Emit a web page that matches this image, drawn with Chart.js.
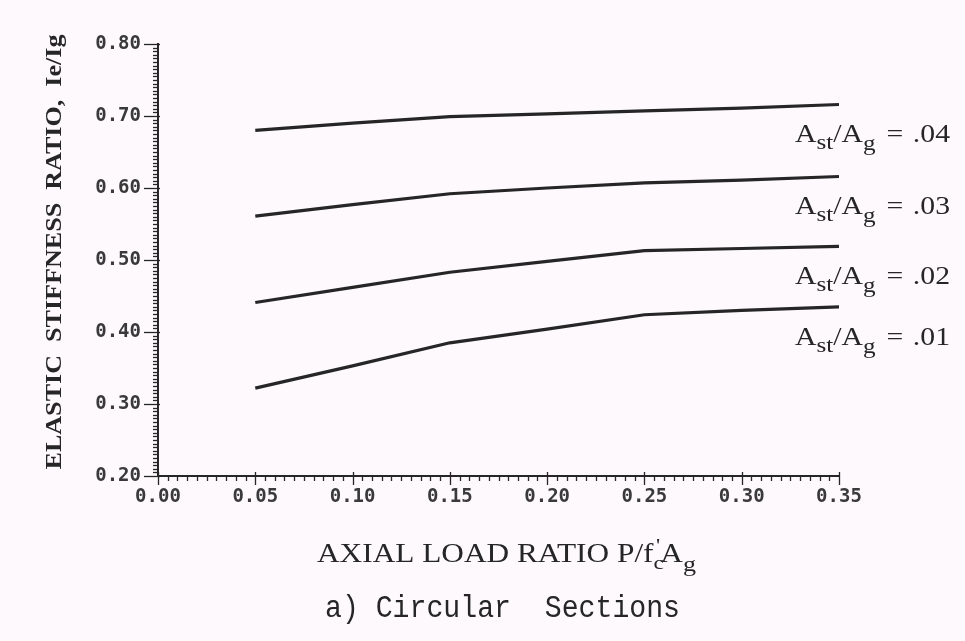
<!DOCTYPE html>
<html>
<head>
<meta charset="utf-8">
<script src="https://cdn.jsdelivr.net/npm/chart.js@4/dist/chart.umd.min.js"></script>
<style>
  html, body { margin: 0; padding: 0; background: #fdf9fd; }
  #wrap { width: 965px; height: 641px; }
</style>
</head>
<body>
<div id="wrap"><canvas id="c" width="965" height="641"></canvas></div>
<script>
// ---- data ----
const axialLoadRatio = [0.05, 0.10, 0.15, 0.20, 0.25, 0.30, 0.35];
const stiffness04 = [0.680, 0.690, 0.699, 0.703, 0.707, 0.711, 0.716];
const stiffness03 = [0.561, 0.577, 0.592, 0.600, 0.607, 0.611, 0.616];
const stiffness02 = [0.441, 0.462, 0.483, 0.498, 0.513, 0.516, 0.519];
const stiffness01 = [0.322, 0.353, 0.385, 0.404, 0.424, 0.430, 0.435];
const steelRatioLabels = ['.04', '.03', '.02', '.01'];
const xRange = [0.00, 0.35];
const yRange = [0.20, 0.80];
const xMajorStep = 0.05, yMajorStep = 0.10, minorStep = 0.005;
const yTitle = 'ELASTIC  STIFFNESS  RATIO,  Ie/Ig';
const captionText = 'a) Circular  Sections';

const INK = '#262626';
const seriesValues = [stiffness04, stiffness03, stiffness02, stiffness01];

const datasets = seriesValues.map((vals, i) => ({
  label: 'Ast/Ag = ' + steelRatioLabels[i],
  data: axialLoadRatio.map((x, k) => ({ x: x, y: vals[k] })),
  borderColor: INK,
  borderWidth: 3.2,
  pointRadius: 0,
  tension: 0,
  fill: false
}));

function isMajor(v, step) {
  const r = v / step;
  return Math.abs(r - Math.round(r)) < 1e-6;
}

function piecesWidth(ctx, pieces, family, weight) {
  let w = 0;
  for (const p of pieces) {
    ctx.font = `${weight} ${p.size}px ${family}`;
    w += ctx.measureText(p.t).width + (p.gap || 0) + (p.dx || 0);
  }
  return w;
}
function drawPieces(ctx, pieces, family, weight, x, y, sx, sy) {
  ctx.save();
  ctx.translate(x, y);
  ctx.scale(sx, sy);
  ctx.textBaseline = 'alphabetic';
  ctx.textAlign = 'left';
  let cx = 0;
  for (const p of pieces) {
    ctx.font = `${weight} ${p.size}px ${family}`;
    cx += (p.dx || 0);
    ctx.fillText(p.t, cx, p.dy || 0);
    cx += ctx.measureText(p.t).width + (p.gap || 0);
  }
  ctx.restore();
}

const decorPlugin = {
  id: 'decor',
  beforeDraw(chart) {
    const ctx = chart.ctx;
    ctx.save();
    ctx.fillStyle = '#fdf9fd';
    ctx.fillRect(0, 0, chart.width, chart.height);
    ctx.restore();
  },
  afterDraw(chart) {
    const ctx = chart.ctx;
    const xs = chart.scales.x, ys = chart.scales.y;
    const area = chart.chartArea;
    ctx.save();
    ctx.strokeStyle = INK;
    ctx.lineWidth = 1.3;
    // y ticks
    ys.ticks.forEach(t => {
      const py = Math.round(ys.getPixelForValue(t.value)) + 0.5;
      const major = isMajor(t.value - yRange[0], yMajorStep);
      ctx.beginPath();
      ctx.moveTo(area.left - (major ? 14 : 5), py);
      ctx.lineTo(area.left + (major ? 2 : 0), py);
      ctx.stroke();
    });
    // x ticks
    xs.ticks.forEach(t => {
      const px = Math.round(xs.getPixelForValue(t.value)) + 0.5;
      const major = isMajor(t.value, xMajorStep);
      ctx.beginPath();
      ctx.moveTo(px, area.bottom - (major ? 4 : 0));
      ctx.lineTo(px, area.bottom + (major ? 9 : 5));
      ctx.stroke();
    });
    ctx.restore();

    ctx.save();
    ctx.fillStyle = INK;
    // y axis title (rotated)
    {
      const fam = '"Liberation Serif", "Times New Roman", serif';
      const pieces = [{ t: yTitle, size: 16 }];
      const w = piecesWidth(ctx, pieces, fam, 'bold');
      const target = 435;
      ctx.save();
      ctx.translate(area.left - 105, (area.top + area.bottom) / 2 - 8);
      ctx.rotate(-Math.PI / 2);
      drawPieces(ctx, pieces, fam, 'bold', -target / 2, 8, target / w, 1.45);
      ctx.restore();
    }
    // x axis title with sub/superscripts
    {
      const fam = '"Liberation Serif", "Times New Roman", serif';
      const pieces = [
        { t: 'AXIAL LOAD RATIO P/f', size: 24 },
        { t: 'c', size: 18, dy: 6 },
        { t: "'", size: 18, dy: -9, dx: -6 },
        { t: 'A', size: 24 },
        { t: 'g', size: 20, dy: 8 }
      ];
      const w = piecesWidth(ctx, pieces, fam, 'normal');
      const target = 379;
      const cx = (area.left + area.right) / 2 + 8;
      drawPieces(ctx, pieces, fam, 'normal', cx - target / 2, area.bottom + 86, target / w, 1.1);
    }
    // caption
    {
      const fam = '"Liberation Mono", "DejaVu Sans Mono", monospace';
      const pieces = [{ t: captionText, size: 26 }];
      const w = piecesWidth(ctx, pieces, fam, 'normal');
      const target = 355;
      const cx = (area.left + area.right) / 2 + 4;
      drawPieces(ctx, pieces, fam, 'normal', cx - target / 2, area.bottom + 141, target / w, 1.2);
    }
    // series labels anchored to each line's last point
    {
      const fam = '"Liberation Serif", "Times New Roman", serif';
      chart.data.datasets.forEach((ds, i) => {
        const meta = chart.getDatasetMeta(i);
        const last = meta.data[meta.data.length - 1];
        const pieces = [
          { t: 'A', size: 26 },
          { t: 'st', size: 22, dy: 7 },
          { t: '/A', size: 26 },
          { t: 'g', size: 22, dy: 8, gap: 3 },
          { t: ' = ', size: 26, gap: 2 },
          { t: steelRatioLabels[i], size: 26 }
        ];
        const w = piecesWidth(ctx, pieces, fam, 'normal');
        const target = 155;
        drawPieces(ctx, pieces, fam, 'normal', last.x - 44, last.y + 38, target / w, 1.0);
      });
    }
    ctx.restore();
  }
};

const tickFont = { family: '"DejaVu Sans Mono", "Liberation Mono", monospace', size: 19, weight: 'bold' };

new Chart(document.getElementById('c'), {
  type: 'line',
  data: { datasets: datasets },
  options: {
    responsive: false,
    animation: false,
    events: [],
    layout: { padding: { left: 0, top: 44, right: 126, bottom: 0 } },
    plugins: { legend: { display: false }, tooltip: { enabled: false } },
    scales: {
      x: {
        type: 'linear',
        min: xRange[0],
        max: xRange[1],
        grid: { display: false, drawTicks: false },
        border: { display: true, color: INK, width: 2 },
        ticks: {
          stepSize: minorStep,
          autoSkip: false,
          maxRotation: 0,
          padding: 10,
          color: '#3a3a3a',
          font: tickFont,
          callback: (v) => isMajor(v, xMajorStep) ? v.toFixed(2) : ''
        },
        afterFit: (s) => { s.height = 165; }
      },
      y: {
        type: 'linear',
        min: yRange[0],
        max: yRange[1],
        grid: { display: false, drawTicks: false },
        border: { display: true, color: INK, width: 2 },
        ticks: {
          stepSize: minorStep,
          autoSkip: false,
          padding: 17,
          color: '#3a3a3a',
          font: tickFont,
          callback: (v) => isMajor(v - yRange[0], yMajorStep) ? v.toFixed(2) : ''
        },
        afterFit: (s) => { s.width = 158; }
      }
    }
  },
  plugins: [decorPlugin]
});
</script>
</body>
</html>
